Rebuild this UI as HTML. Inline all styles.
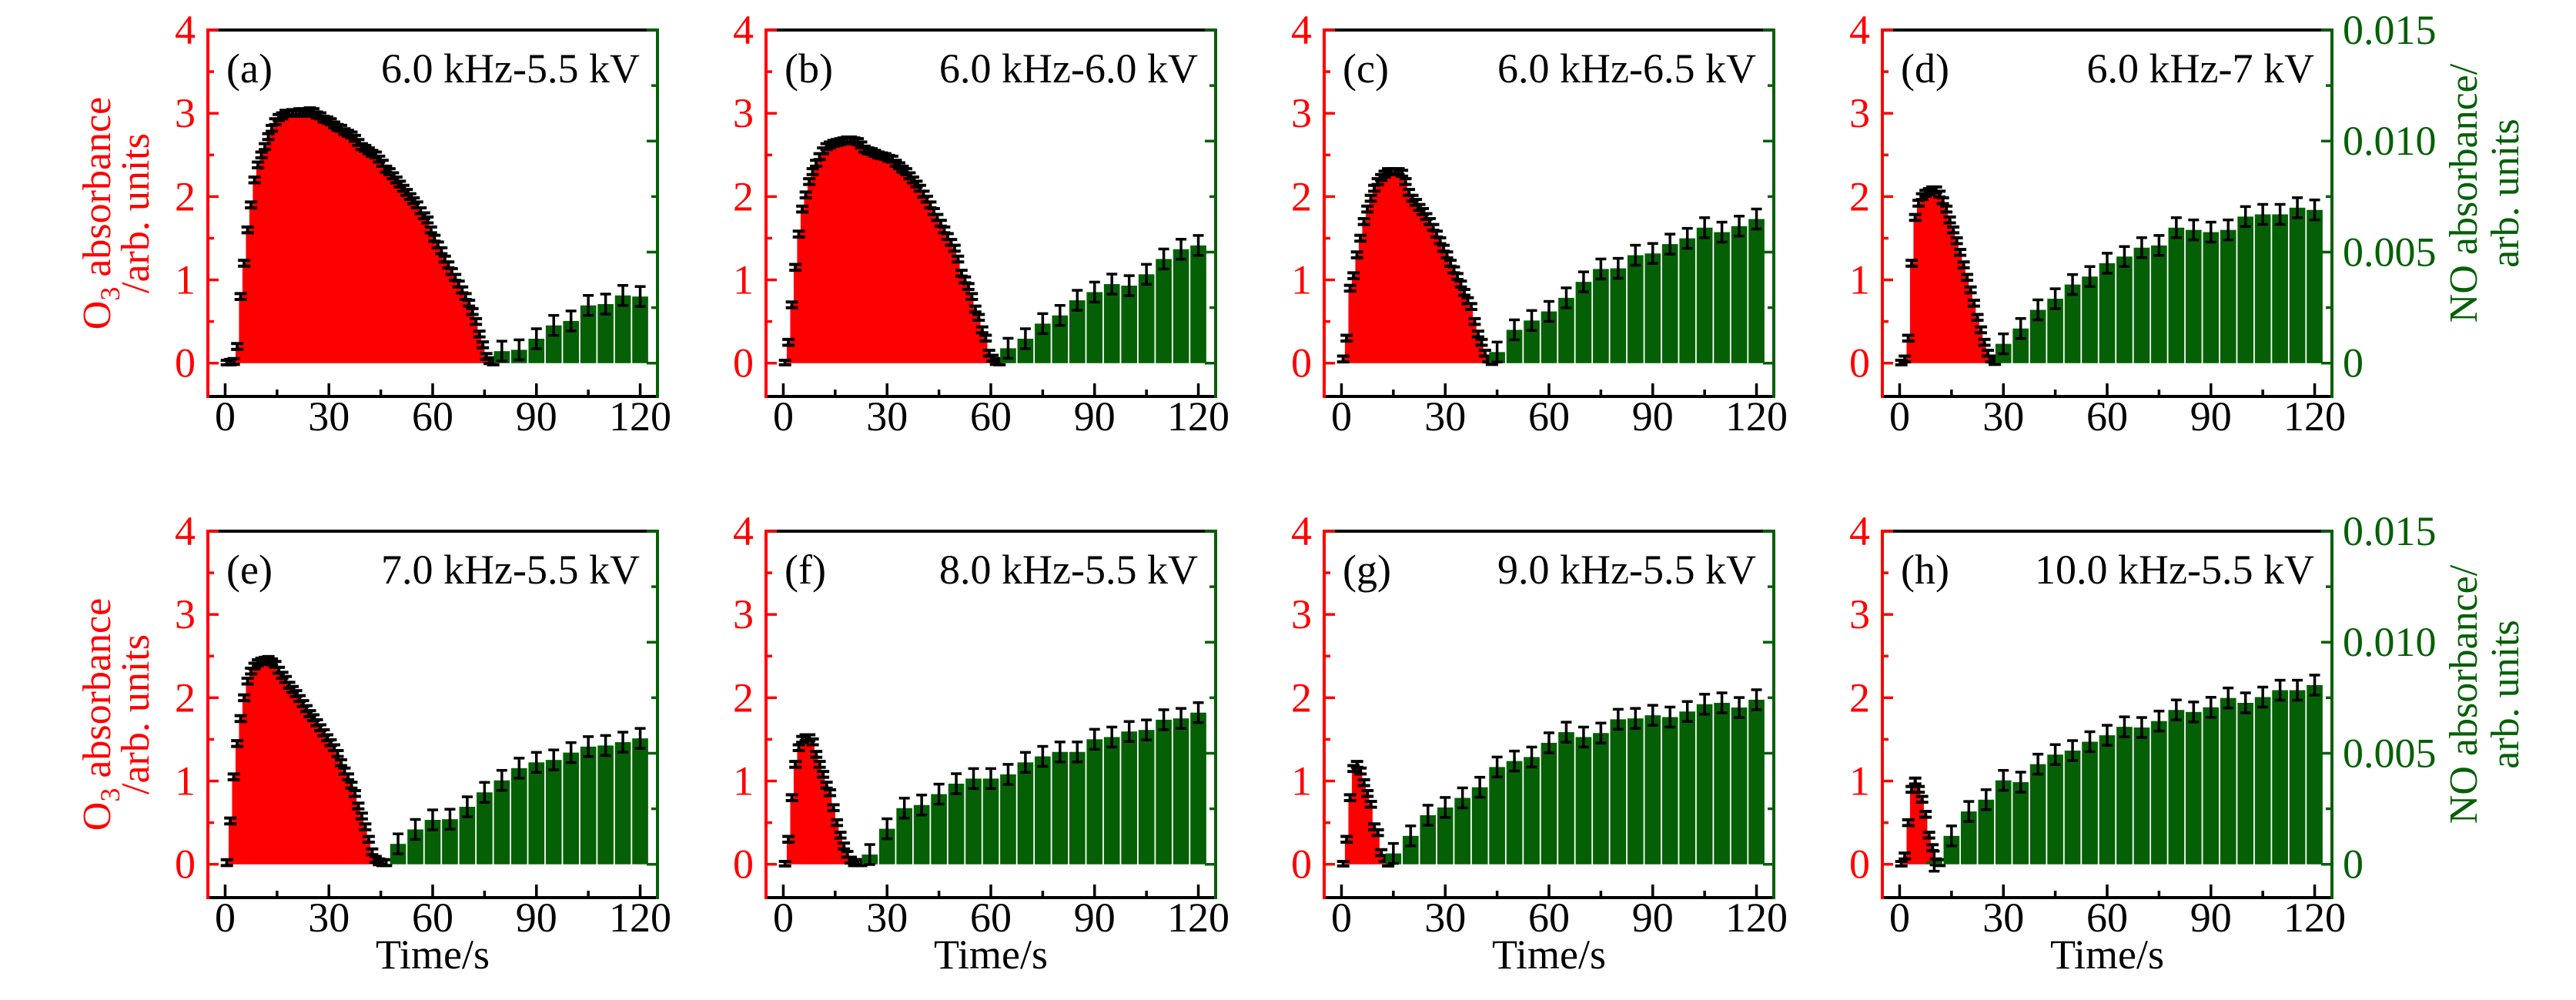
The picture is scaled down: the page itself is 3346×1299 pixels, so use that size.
<!DOCTYPE html>
<html><head><meta charset="utf-8"><style>
html,body{margin:0;padding:0;background:#fff;}
svg{display:block;font-family:"Liberation Serif",serif;}
</style></head><body>
<svg id="fig" width="3346" height="1299" viewBox="0 0 3346 1299" xmlns="http://www.w3.org/2000/svg"></svg>
<script>
const panelTags = ["(a)","(b)","(c)","(d)","(e)","(f)","(g)","(h)"];
const panelConds = ["6.0 kHz-5.5 kV","6.0 kHz-6.0 kV","6.0 kHz-6.5 kV","6.0 kHz-7 kV","7.0 kHz-5.5 kV","8.0 kHz-5.5 kV","9.0 kHz-5.5 kV","10.0 kHz-5.5 kV"];
const xTicks = [0,30,60,90,120];
const o3Ticks = [0,1,2,3,4];
const noTicks = [0,0.005,0.010,0.015];
const noTickLabels = ["0","0.005","0.010","0.015"];
// O3 absorbance, one value per second starting at t=0
const o3A = [0,0.01,0.02,0.2,0.8,1.2,1.6,1.9,2.2,2.38,2.5,2.6,2.72,2.82,2.9,2.95,2.97,3.0,3.0,3.01,3.0,3.02,3.02,3.0,3.03,3.02,2.98,2.97,2.93,2.92,2.9,2.86,2.83,2.82,2.78,2.76,2.74,2.7,2.65,2.6,2.58,2.55,2.52,2.5,2.45,2.4,2.33,2.3,2.25,2.2,2.15,2.1,2.05,2.0,1.95,1.9,1.83,1.77,1.72,1.6,1.5,1.42,1.35,1.25,1.18,1.1,1.03,0.95,0.88,0.8,0.72,0.62,0.5,0.35,0.22,0.08,0.03,0.01];
const o3B = [0,0.25,0.7,1.15,1.55,1.85,2.02,2.18,2.3,2.4,2.48,2.55,2.6,2.62,2.64,2.65,2.66,2.67,2.68,2.68,2.67,2.66,2.62,2.57,2.55,2.54,2.52,2.5,2.49,2.48,2.46,2.45,2.4,2.37,2.33,2.3,2.25,2.2,2.15,2.1,2.03,1.97,1.9,1.82,1.75,1.68,1.6,1.52,1.45,1.38,1.25,1.08,1.0,0.92,0.8,0.65,0.55,0.4,0.3,0.12,0.06,0.02,0.01];
const o3C = [0.05,0.3,0.9,1.05,1.3,1.5,1.7,1.85,1.98,2.1,2.18,2.23,2.27,2.3,2.3,2.3,2.3,2.28,2.18,2.05,1.98,1.93,1.87,1.82,1.76,1.7,1.63,1.55,1.47,1.38,1.3,1.2,1.12,1.04,0.95,0.85,0.75,0.68,0.5,0.35,0.25,0.12,0.05,0.02];
const o3D = [0,0.05,0.3,1.2,1.75,1.92,2.0,2.04,2.06,2.08,2.08,2.03,1.95,1.85,1.72,1.6,1.47,1.33,1.18,1.03,0.88,0.72,0.55,0.4,0.25,0.12,0.05,0.02];
const o3E = [0.02,0.52,1.05,1.45,1.75,2.0,2.2,2.32,2.38,2.42,2.44,2.45,2.46,2.43,2.4,2.33,2.27,2.22,2.15,2.1,2.05,1.99,1.93,1.87,1.81,1.76,1.7,1.64,1.58,1.52,1.46,1.4,1.33,1.22,1.12,1.05,0.95,0.85,0.7,0.58,0.45,0.3,0.15,0.06,0.03,0.02,0.02];
const o3F = [0,0.3,0.8,1.2,1.4,1.5,1.52,1.52,1.47,1.32,1.2,1.08,0.95,0.86,0.68,0.5,0.35,0.22,0.12,0.05,0.02,0.02,0.02];
const o3G = [0,0.3,0.8,1.15,1.2,1.12,0.98,0.85,0.72,0.45,0.38,0.14,0.07,0.01];
const o3H = [0,0.1,0.5,0.9,1.0,0.9,0.78,0.6,0.35,0.2,0.03,0.02];
// NO absorbance bars every 5 s
const noStart = [80,65,45,30,50,25,15,10];
const noA = [0.00054,0.0006,0.0011,0.0017,0.0019,0.0026,0.00266,0.00305,0.0030];
const noB = [0.00067,0.0011,0.00178,0.00215,0.00283,0.0032,0.00356,0.00349,0.0040,0.00469,0.00513,0.0053];
const noC = [0.0005,0.0015,0.00192,0.00233,0.00294,0.00366,0.00424,0.00427,0.00486,0.00494,0.00536,0.00562,0.0061,0.0059,0.00617,0.00649];
const noD = [0.00087,0.00156,0.0024,0.0029,0.00354,0.0039,0.0045,0.0048,0.0052,0.0053,0.0061,0.006,0.0059,0.006,0.0066,0.0067,0.0067,0.007,0.0069];
const noE = [0.00092,0.00157,0.002,0.00203,0.00259,0.00324,0.00378,0.00433,0.00459,0.0047,0.00503,0.0053,0.00535,0.0055,0.00567];
const noF = [0.00044,0.0016,0.00253,0.00267,0.00316,0.00363,0.00386,0.00386,0.00405,0.00459,0.00486,0.00506,0.00506,0.00563,0.00573,0.00598,0.00605,0.00651,0.00657,0.00683];
const noG = [0.00049,0.00128,0.00221,0.00256,0.00299,0.00347,0.00438,0.00465,0.00483,0.00547,0.00595,0.00573,0.00591,0.00653,0.00657,0.00671,0.00663,0.00688,0.00721,0.00727,0.00706,0.00741];
const noH = [0.00014,0.00128,0.00238,0.00291,0.00378,0.0037,0.00451,0.00494,0.00512,0.00552,0.00581,0.00619,0.00616,0.00645,0.00695,0.00686,0.00707,0.00749,0.00727,0.00753,0.00784,0.00784,0.00807];
const o3Err = 0.035;
const noErr = 0.00045;

const o3All = [o3A,o3B,o3C,o3D,o3E,o3F,o3G,o3H];
const noAll = [noA,noB,noC,noD,noE,noF,noG,noH];

const NS = "http://www.w3.org/2000/svg";
const svg = document.getElementById("fig");
const RED = "#ff0000", GREEN = "#056005", BLACK = "#000";
const colL = [270,995,1720,2445], rowT = [39,690];
const PW = 584, PH = 476;
const X0 = -5, X1 = 125, Y0 = -0.4, Y1 = 4, NOMAX = 0.015;
const FS = 54;

function mk(tag, attrs, parent){
  const e = document.createElementNS(NS, tag);
  for (const k in attrs) e.setAttribute(k, attrs[k]);
  (parent||svg).appendChild(e);
  return e;
}

for (let p = 0; p < 8; p++){
  const L = colL[p%4], T = rowT[Math.floor(p/4)];
  const xs = t => L + (t - X0) / (X1 - X0) * PW;
  const ys = v => T + (Y1 - v) / (Y1 - Y0) * PH;
  const yz = ys(0);
  const yn = n => yz - n / NOMAX * (yz - T);
  const g = mk("g", {});
  
  

  const o3 = o3All[p];
  let d = "M" + xs(0) + "," + yz;
  for (let i = 0; i < o3.length; i++){
    d += " L" + xs(i) + "," + ys(o3[i]) + " L" + xs(i+1) + "," + ys(o3[i]);
  }
  d += " L" + xs(o3.length) + "," + yz + " Z";
  const area = mk("path", {d: d, fill: RED, stroke: "none"}, g);
  
  

  const eg = mk("g", {stroke: BLACK, "stroke-width": 4}, g);
  
  
  for (let i = 0; i < o3.length; i++){
    const cx = xs(i + 0.5), ya = ys(o3[i] + o3Err), yb = ys(Math.max(o3[i] - o3Err, -0.02));
    mk("line", {x1: cx, x2: cx, y1: ya, y2: yb}, eg);
    mk("line", {x1: cx-8, x2: cx+8, y1: ya, y2: ya}, eg);
    mk("line", {x1: cx-8, x2: cx+8, y1: yb, y2: yb}, eg);
  }

  const no = noAll[p];
  for (let i = 0; i < no.length; i++){
    const t = noStart[p] + 5*i;
    const bx = xs(t - 2.3), bw = xs(t + 2.3) - xs(t - 2.3);
    const r = mk("rect", {x: bx, y: yn(no[i]), width: bw, height: yz - yn(no[i]), fill: GREEN}, g);
    
    
    const cx = xs(t), ya = yn(no[i] + noErr), yb = yn(no[i] - noErr);
    const eb = mk("g", {stroke: BLACK, "stroke-width": 3.5}, g);
    
    
    mk("line", {x1: cx, x2: cx, y1: ya, y2: yb}, eb);
    mk("line", {x1: cx-7, x2: cx+7, y1: ya, y2: ya}, eb);
    mk("line", {x1: cx-7, x2: cx+7, y1: yb, y2: yb}, eb);
  }

  const R = L + PW, B = T + PH;
  mk("line", {x1: L, x2: R, y1: T, y2: T, stroke: BLACK, "stroke-width": 4}, g);
  mk("line", {x1: L, x2: R, y1: B, y2: B, stroke: BLACK, "stroke-width": 4}, g);
  const la = mk("line", {x1: L, x2: L, y1: T-2, y2: B+2, stroke: RED, "stroke-width": 4}, g);
  
  
  const ra = mk("line", {x1: R, x2: R, y1: T-2, y2: B+2, stroke: GREEN, "stroke-width": 4}, g);
  
  

  for (let t = 0; t <= 120; t += 15){
    const major = t % 30 === 0;
    mk("line", {x1: xs(t), x2: xs(t), y1: B, y2: B - (major ? 17 : 9), stroke: BLACK, "stroke-width": 3.5}, g);
  }
  xTicks.forEach(t => {
    const tx = mk("text", {x: xs(t), y: B + 44, "text-anchor": "middle", "font-size": FS, fill: BLACK}, g);
    tx.textContent = String(t);
    
    
  });
  for (let v = 0; v <= 4; v += 0.5){
    const major = Number.isInteger(v);
    mk("line", {x1: L, x2: L + (major ? 14 : 8), y1: ys(v), y2: ys(v), stroke: RED, "stroke-width": 3.5}, g);
  }
  o3Ticks.forEach(v => {
    const tx = mk("text", {x: L - 16, y: ys(v) + 18, "text-anchor": "end", "font-size": FS, fill: RED}, g);
    tx.textContent = String(v);
    
    
  });
  for (let k = 0; k <= 6; k++){
    const n = k * 0.0025, major = k % 2 === 0;
    mk("line", {x1: R, x2: R - (major ? 14 : 8), y1: yn(n), y2: yn(n), stroke: GREEN, "stroke-width": 3.5}, g);
  }
  if (p % 4 === 3){
    noTicks.forEach((n, k) => {
      const tx = mk("text", {x: R + 14, y: yn(n) + 18, "text-anchor": "start", "font-size": FS, fill: GREEN}, g);
      tx.textContent = noTickLabels[k];
      
      
    });
    const rt = mk("text", {transform: "translate(" + (R + 188) + "," + (T + 212) + ") rotate(-90)", "text-anchor": "middle", "font-size": 52, fill: GREEN}, g);
    rt.textContent = "NO absorbance/";
    
    
    const rt2 = mk("text", {transform: "translate(" + (R + 242) + "," + (T + 212) + ") rotate(-90)", "text-anchor": "middle", "font-size": 52, fill: GREEN}, g);
    rt2.textContent = "arb. units";
    
    
  }
  if (p % 4 === 0){
    const lt = mk("text", {transform: "translate(" + (L - 127) + "," + (T + 238) + ") rotate(-90)", "text-anchor": "middle", "font-size": 52, fill: RED}, g);
    lt.innerHTML = 'O<tspan font-size="36" dy="12">3</tspan><tspan dy="-12"> absorbance</tspan>';
    
    
    const lt2 = mk("text", {transform: "translate(" + (L - 77) + "," + (T + 238) + ") rotate(-90)", "text-anchor": "middle", "font-size": 52, fill: RED}, g);
    lt2.textContent = "/arb. units";
    
    
  }
  if (p >= 4){
    const xt = mk("text", {x: L + PW/2, y: B + 92, "text-anchor": "middle", "font-size": 54, fill: BLACK}, g);
    xt.textContent = "Time/s";
    
    
  }
  const tg = mk("text", {x: L + 24, y: T + 68, "font-size": FS, fill: BLACK}, g);
  tg.textContent = panelTags[p];
  
  
  const cd = mk("text", {x: L + 561, y: T + 68, "text-anchor": "end", "font-size": FS, fill: BLACK}, g);
  cd.textContent = panelConds[p];
  
  
}
</script>
</body></html>
